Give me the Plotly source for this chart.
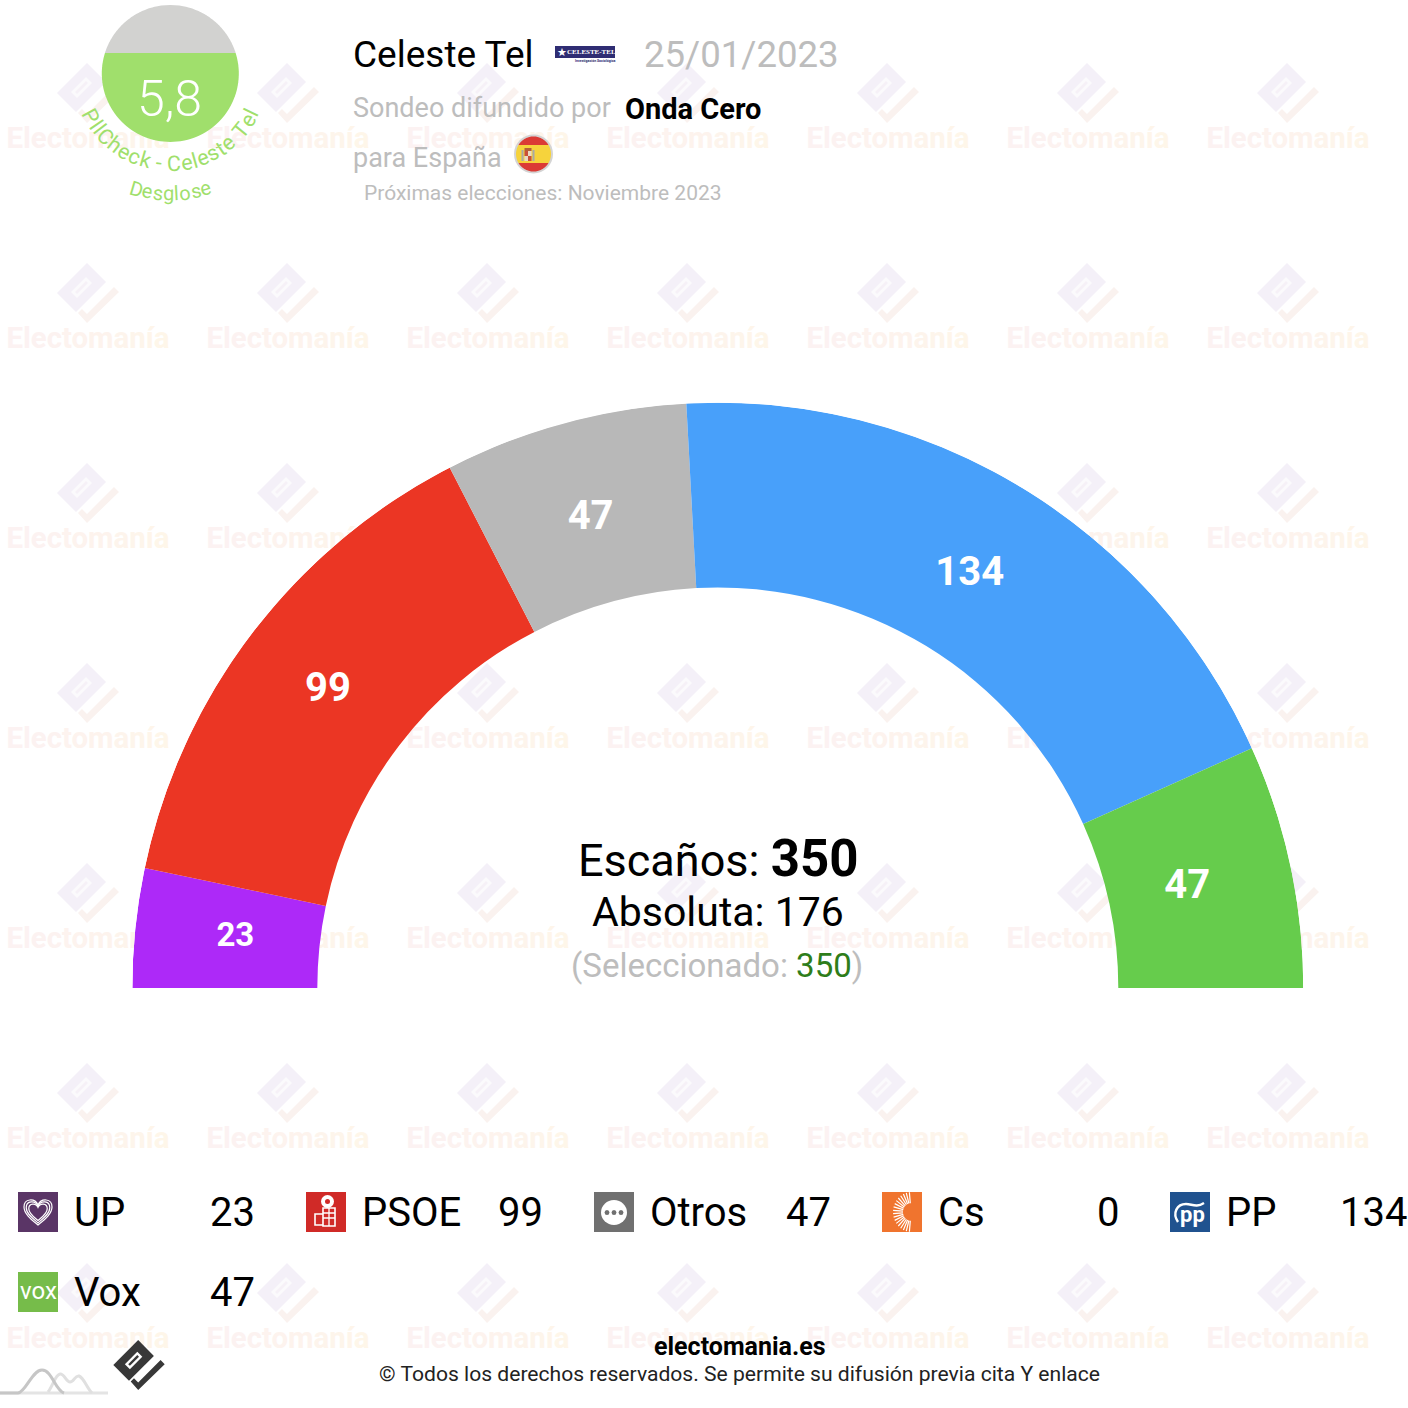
import math
import numpy as np
import plotly.graph_objects as go

# ---- data ----
parties = ["UP", "PSOE", "Otros", "Cs", "PP", "Vox"]
seats = [23, 99, 47, 0, 134, 47]
colors = ["#AD29F8", "#EB3624", "#B8B8B8", "#F0742E", "#48A0FA", "#66CC4C"]
label_sizes = [33, 40, 40, 40, 40, 40]
total_seats = 350
majority = 176
selected = 350
pollster = "Celeste Tel"
poll_date = "25/01/2023"
sponsor = "Onda Cero"
territory = "para España"
next_election = "Próximas elecciones: Noviembre 2023"
score = "5,8"
score_fill = 0.65
wm_word = "Electomanía"
wm_letter_colors = ["#fcf2f2", "#fcf2f2", "#fcf2f1", "#fcf2f0", "#fdf3ef", "#fdf3ee",
                    "#fdf3ed", "#fdf4ec", "#fdf5eb", "#fef5ea", "#fef6e9"]

FONT = "Roboto"
W = H = 1408
CX, CY, R_OUT, R_IN = 717.8, 988, 585.5, 400.5

fig = go.Figure()

# ---- watermark (pixel layer under the chart) ----
wm_x = [88 + 200 * k for k in range(7)]
wm_y = [141 + 200 * j for j in range(7)]
word = "".join(f"<span style='color:{c}'>{ch}</span>" for ch, c in zip(wm_word, wm_letter_colors))
xs, ys = np.meshgrid(wm_x, wm_y)
fig.add_trace(go.Scatter(x=xs.ravel(), y=ys.ravel(), mode="text", text=[f"<b>{word}</b>"] * xs.size,
                         textposition="middle center", hoverinfo="skip", showlegend=False,
                         textfont=dict(family=FONT, size=29.4, color="#fbefec")))


def poly(pts, ox, oy, s=1.0):
    return "M" + " L".join(f"{ox + x * s:.1f},{oy + y * s:.1f}" for x, y in pts) + " Z"


BODY = [(-1, -30), (18, -11), (-12, 19), (-31, 0)]
SLOT = [(-17, -1), (-2, -16), (4, -10), (-11, 5)]
BAR = [(-13, -1), (-2, -12), (0, -10), (-11, 1)]
TICK = [(-10, 20), (-6, 16), (-1, 21), (26, -6), (31, -1), (-1, 30)]

shapes = []


def path_shape(path, fill, layer="above", line=None, width=0):
    return dict(type="path", path=path, fillcolor=fill, layer=layer, xref="x", yref="y",
                line=dict(color=line or "rgba(0,0,0,0)", width=width))


bodies, slots, bars, ticks = [], [], [], []
for ox in wm_x:
    for oy in wm_y:
        ly = oy - 48
        bodies.append(poly(BODY, ox, ly))
        slots.append(poly(SLOT, ox, ly))
        bars.append(poly(BAR, ox, ly))
        ticks.append(poly(TICK, ox, ly))
shapes.append(path_shape(" ".join(bodies), "#f4f0f8", "below"))
shapes.append(path_shape(" ".join(slots), "#fbfafc", "below"))
shapes.append(path_shape(" ".join(bars), "#f6f1f7", "below"))
shapes.append(path_shape(" ".join(ticks), "#faf2ef", "below"))


# ---- main half ring: values through a polar subplot ----
deg_per_seat = 180 / total_seats
edges = np.cumsum([0] + seats)
mids = [(edges[i] + edges[i + 1]) / 2 * deg_per_seat for i in range(len(seats))]
widths = [s * deg_per_seat for s in seats]
fig.add_trace(go.Barpolar(subplot="polar", theta=mids, width=widths, r=[R_OUT - R_IN] * len(seats),
                          base=[R_IN] * len(seats), marker=dict(color=colors, line=dict(width=0)),
                          opacity=1, showlegend=False, hoverinfo="skip"))
idx = [i for i, s in enumerate(seats) if s > 0]
label_r = {"UP": 485, "PSOE": 490, "Otros": 486, "PP": 484, "Vox": 480}
fig.add_trace(go.Scatterpolar(subplot="polar", theta=[mids[i] for i in idx], r=[label_r[parties[i]] for i in idx],
                              mode="text", text=[f"<b>{seats[i]}</b>" for i in idx],
                              textfont=dict(family=FONT, color="white", size=[label_sizes[i] for i in idx]),
                              textposition="middle center", showlegend=False, hoverinfo="skip"))


# ---- helpers for annotations ----
annotations = []


def text(x, y, s, size, color="#000000", anchor="left", angle=0, family=FONT, weight=None, valign="middle"):
    font = dict(family=family, size=size, color=color)
    if weight:
        font["weight"] = weight
    annotations.append(dict(x=x, y=y, text=s, xref="x", yref="y", showarrow=False, xanchor=anchor,
                            yanchor=valign, textangle=angle, font=font, borderpad=0, borderwidth=0))


def circle_segment(cx, cy, r, y0, y1, n=60):
    """closed polygon: part of a circle between two horizontal lines"""
    y0 = max(y0, cy - r)
    y1 = min(y1, cy + r)
    yy = np.linspace(y0, y1, n)
    right = [(cx + math.sqrt(max(r * r - (y - cy) ** 2, 0)), y) for y in yy]
    left = [(cx - math.sqrt(max(r * r - (y - cy) ** 2, 0)), y) for y in yy[::-1]]
    return poly(right + left, 0, 0)


# ---- gauge (top left) ----
GX, GY, GR = 170.3, 73.5, 68.5
fig_top = GY + GR - 2 * GR * score_fill
shapes.append(path_shape(circle_segment(GX, GY, GR, GY - GR, fig_top, 80), "#D2D2D0"))
shapes.append(path_shape(circle_segment(GX, GY, GR, fig_top, GY + GR, 120), "#A0DF6C"))
text(GX - 0.8, 99, score, 50, "white", "center", weight=300)

CW = {"P": .62, "l": .25, "C": .65, "h": .55, "e": .53, "c": .52, "k": .5, " ": .25, "-": .28, "s": .51, "t": .33,
      "T": .6, "D": .65, "g": .56, "o": .57}


def curved(s, radius, size, cy_off=0.0, spacing=0.0):
    widths_ = [CW.get(c, .5) * size + spacing for c in s]
    tot = sum(widths_)
    pos = -tot / 2
    for c, w_ in zip(s, widths_):
        a = (pos + w_ / 2) / radius
        x = GX + radius * math.sin(a)
        y = GY + radius * math.cos(a)
        if c != " ":
            text(x, y, c, size, "#A0DF6C", "center", angle=-math.degrees(a))
        pos += w_


curved("PllCheck - Celeste Tel", 90, 21.5)
curved("Desglose", 120, 20)

# ---- header ----
text(353, 54, pollster, 37)
text(644, 54, poll_date, 36.6, "#BDBDBD")
text(353, 108, "Sondeo difundido por", 27, "#BDBDBD")
text(625, 109, f"<b>{sponsor}</b>", 29)
text(353, 158, territory, 27, "#BDBDBD")
text(364, 193, next_election, 21, "#BDBDBD")
# pollster logo
shapes.append(dict(type="rect", x0=555, x1=615, y0=46, y1=58, fillcolor="#2F2D73", line=dict(width=0), xref="x", yref="y"))
text(591, 52, "<b>CELESTE-TEL</b>", 7, "white", "center", family="Liberation Serif")
text(562, 52, "★", 11, "white", "center", family="DejaVu Sans")
text(595, 61, "<b>Investigación Sociológica</b>", 3.5, "#2F2D73", "center")
# flag
FX, FY = 533.5, 154
shapes.append(dict(type="circle", x0=FX - 19.5, x1=FX + 19.5, y0=FY - 19.5, y1=FY + 19.5, fillcolor="#d4d4d4",
                   line=dict(width=0), xref="x", yref="y"))
shapes.append(path_shape(circle_segment(FX, FY, 17.5, FY - 18, FY - 9), "#DB3A35"))
shapes.append(path_shape(circle_segment(FX, FY, 17.5, FY - 9, FY + 9), "#F6D33C"))
shapes.append(path_shape(circle_segment(FX, FY, 17.5, FY + 9, FY + 18), "#DB3A35"))
for x0_, x1_, y0_, y1_, c_ in [(-12, -10, -4, 7, "#A9A9A9"), (-1, 1, -4, 7, "#A9A9A9"), (-9, -2, -6, -3, "#B5603A"),
                               (-9, -5.5, -3, 2, "#C9503A"), (-5.5, -2, -3, 2, "#E9D9C4"),
                               (-9, -5.5, 2, 7, "#E9D9C4"), (-5.5, -2, 2, 7, "#C9503A")]:
    shapes.append(dict(type="rect", x0=FX + x0_, x1=FX + x1_, y0=FY + y0_, y1=FY + y1_, fillcolor=c_,
                       line=dict(width=0), xref="x", yref="y"))

# ---- centre text ----
text(718, 858, f"Escaños: <b><span style='font-size:51px'>{total_seats}</span></b>", 45, "#000000", "center")
text(718, 912, f"Absoluta: {majority}", 41, "#000000", "center")
text(717, 965, f"(Seleccionado: <span style='color:#2E7D1A'>{selected}</span>)", 33, "#BDBDBD", "center")

# ---- legend ----
icon_x = [18, 306, 594, 882, 1170, 18]
icon_y = [1192, 1192, 1192, 1192, 1192, 1272]
icon_col = ["#5A3566", "#D02A27", "#707070", "#F0742E", "#20528F", "#76BC4A"]
for name, s, ix, iy, col in zip(parties, seats, icon_x, icon_y, icon_col):
    shapes.append(dict(type="rect", x0=ix, x1=ix + 40, y0=iy, y1=iy + 40, fillcolor=col, line=dict(width=0), xref="x", yref="y"))
    text(ix + 55.8, iy + 20, name, 40)
    text(ix + 237, iy + 20, str(s), 40, "#000000", "right")


def heart(cx, cy, s):
    return (f"M{cx},{cy + 13 * s} C{cx - 6 * s},{cy + 8 * s} {cx - 14 * s},{cy + 2 * s} {cx - 14 * s},{cy - 5 * s} "
            f"C{cx - 14 * s},{cy - 14 * s} {cx - 3 * s},{cy - 14 * s} {cx},{cy - 7 * s} "
            f"C{cx + 3 * s},{cy - 14 * s} {cx + 14 * s},{cy - 14 * s} {cx + 14 * s},{cy - 5 * s} "
            f"C{cx + 14 * s},{cy + 2 * s} {cx + 6 * s},{cy + 8 * s} {cx},{cy + 13 * s} Z")


for s_ in [1.0, 0.84, 0.66]:
    shapes.append(path_shape(heart(38, 1212, s_), "rgba(0,0,0,0)", line="white", width=1.2))
# PSOE fist and rose
shapes.append(dict(type="circle", x0=321, x1=334, y0=1195, y1=1208, fillcolor="white", line=dict(width=0), xref="x", yref="y"))
shapes.append(dict(type="circle", x0=325, x1=330, y0=1199, y1=1204, fillcolor="#D02A27", line=dict(width=0), xref="x", yref="y"))
shapes.append(path_shape("M323,1208 H335 V1226 H323 Z M315,1214 H323 V1225 H315 Z", "rgba(0,0,0,0)", line="white", width=1.6))
shapes.append(path_shape("M323,1213 H335 M323,1218 H335 M329,1208 V1226", "rgba(0,0,0,0)", line="white", width=1.3))
# Otros bubble
shapes.append(dict(type="circle", x0=601, x1=627, y0=1200, y1=1225, fillcolor="white", line=dict(width=0), xref="x", yref="y"))
for dx in (-7, 0, 7):
    shapes.append(dict(type="circle", x0=614 + dx - 2.4, x1=614 + dx + 2.4, y0=1210, y1=1215, fillcolor="#707070", line=dict(width=0), xref="x", yref="y"))
# Cs sunburst
rays = []
for a_ in np.arange(-85, 86, 10):
    a_ = math.radians(a_)
    r0, r1 = 8, 18
    rays.append(f"M{902 - r0 * math.cos(a_) + 9:.1f},{1212 + r0 * 1.1 * math.sin(a_):.1f} "
                f"L{902 - r1 * math.cos(a_) + 9:.1f},{1212 + r1 * 1.1 * math.sin(a_):.1f}")
shapes.append(path_shape(" ".join(rays), "rgba(0,0,0,0)", line="white", width=1.2))
# PP
shapes.append(path_shape("M1178,1222 C1172,1213 1177,1204 1186,1204 C1192,1204 1196,1208 1204,1203",
                         "rgba(0,0,0,0)", line="white", width=2.4))
text(1192, 1214, "<b>pp</b>", 22, "white", "center")
# Vox
text(38, 1291, "vox", 24, "white", "center")

# ---- footer ----
text(740, 1346, "<b>electomania.es</b>", 25, "#000000", "center")
text(739.5, 1373, "© Todos los derechos reservados. Se permite su difusión previa cita Y enlace", 21.1, "#222222", "center")
shapes.append(path_shape(" ".join([poly(BODY, 139, 1365, .83)]), "#383838"))
shapes.append(path_shape(poly(SLOT, 139, 1365, .83), "#ffffff"))
shapes.append(path_shape(poly(BAR, 139, 1365, .83), "#383838"))
shapes.append(path_shape(poly(TICK, 139, 1365, .83), "#383838"))
shapes.append(path_shape("M0,1393 L108,1393", "rgba(0,0,0,0)", line="#E4E4E4", width=3))
shapes.append(path_shape("M48,1392 C53,1386 55,1375 60,1374 C64,1373 66,1382 70,1382 C74,1382 75,1375 79,1376 C84,1378 87,1388 92,1393",
                         "rgba(0,0,0,0)", line="#E0E0E0", width=3))
shapes.append(path_shape("M0,1393 L18,1393 C26,1392 32,1370 42,1370 C52,1370 55,1390 64,1393",
                         "rgba(0,0,0,0)", line="#C6C6C6", width=3))

# ---- layout ----
fig.update_layout(
    width=W, height=H, margin=dict(l=0, r=0, t=0, b=0, pad=0, autoexpand=False),
    paper_bgcolor="white", plot_bgcolor="white", showlegend=False, dragmode=False, hovermode=False,
    xaxis=dict(range=[0, W], visible=False, fixedrange=True, domain=[0, 1]),
    yaxis=dict(range=[H, 0], visible=False, fixedrange=True, domain=[0, 1]),
    polar=dict(
        domain=dict(x=[(CX - R_OUT) / W, (CX + R_OUT) / W], y=[(H - CY) / H, (H - CY + R_OUT) / H]),
        sector=[0, 180], bgcolor="rgba(0,0,0,0)", hole=0, bargap=0,
        radialaxis=dict(range=[0, R_OUT], visible=False, showgrid=False),
        angularaxis=dict(visible=False, direction="clockwise", rotation=180, showgrid=False, thetaunit="degrees"),
    ),
    shapes=shapes, annotations=annotations, font=dict(family=FONT),
)
fig.write_html("out.html", config=dict(displayModeBar=False, staticPlot=True),
               post_script="document.body.style.margin='0';document.documentElement.style.overflow='hidden';")
